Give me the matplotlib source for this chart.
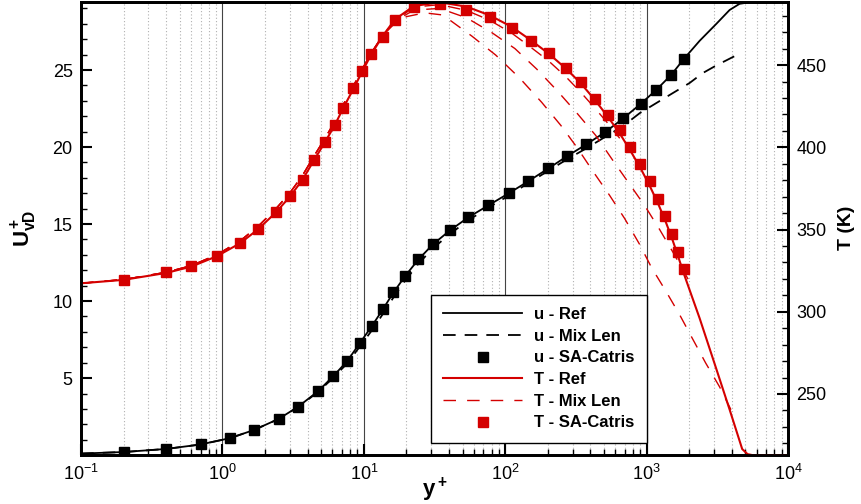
import matplotlib
matplotlib.use("Agg")
import matplotlib.pyplot as plt
from matplotlib.ticker import LogLocator, MultipleLocator, NullFormatter

plt.rcParams["font.family"] = ["Liberation Sans", "DejaVu Sans"]
plt.rcParams["mathtext.fontset"] = "custom"
plt.rcParams["mathtext.rm"] = "Liberation Sans"
plt.rcParams["mathtext.bf"] = "Liberation Sans:bold"
plt.rcParams["mathtext.it"] = "Liberation Sans:italic"
plt.rcParams["mathtext.default"] = "regular"

RED = "#d40000"

# ---- velocity (left axis) ----
u_ref_yp = [0.1, 0.2, 0.4, 0.7, 1.13, 1.67, 2.51, 3.44, 4.75, 6.07, 7.62, 9.37, 11.4, 13.6,
            16.1, 19.5, 24.2, 30.6, 40.5, 54.9, 75.5, 106, 145, 201, 273, 375, 511, 680, 907,
            1172, 1496, 1825, 2371, 3111, 3862, 4540, 5350, 6500, 10000]
u_ref = [0.1, 0.2, 0.4, 0.69, 1.1, 1.63, 2.36, 3.15, 4.15, 5.12, 6.1, 7.27, 8.38, 9.45,
         10.52, 11.6, 12.68, 13.66, 14.58, 15.44, 16.2, 17.0, 17.77, 18.6, 19.4, 20.18, 20.98,
         21.85, 22.8, 23.72, 24.7, 25.7, 26.9, 28.0, 28.9, 29.3, 29.4, 29.42, 29.42]

u_mix_yp = [0.1, 0.2, 0.4, 0.7, 1.13, 1.67, 2.51, 3.44, 4.75, 6.07, 7.62, 9.37, 11.4, 13.6,
            16.1, 19.5, 24.2, 30.6, 40.5, 54.9, 75.5, 106, 145, 201, 273, 375, 409, 511, 680,
            893, 1172, 1528, 2013, 2489, 3111, 4395]
u_mix = [0.1, 0.2, 0.4, 0.69, 1.1, 1.63, 2.35, 3.13, 4.1, 5.02, 5.95, 7.05, 8.1, 9.15,
         10.2, 11.3, 12.4, 13.4, 14.35, 15.25, 16.05, 16.85, 17.65, 18.45, 19.2, 19.92, 20.13,
         20.67, 21.36, 22.2, 22.86, 23.5, 24.16, 24.8, 25.3, 26.0]

u_sa_yp = [0.2, 0.4, 0.7, 1.13, 1.67, 2.51, 3.44, 4.75, 6.07, 7.62, 9.37, 11.4, 13.6, 16.1,
           19.5, 24.2, 30.6, 40.5, 54.9, 75.5, 106, 145, 201, 273, 375, 511, 680, 907, 1172,
           1496, 1825]
u_sa = [0.22, 0.42, 0.69, 1.08, 1.62, 2.34, 3.14, 4.16, 5.13, 6.10, 7.29, 8.40, 9.48, 10.56,
        11.64, 12.73, 13.70, 14.61, 15.47, 16.23, 17.03, 17.79, 18.62, 19.42, 20.19, 20.99,
        21.86, 22.79, 23.70, 24.68, 25.71]

# ---- temperature (right axis) ----
t_ref_yp = [0.1, 0.2, 0.4, 0.6, 0.91, 1.33, 1.79, 2.38, 3.0, 3.69, 4.43, 5.3, 6.24, 7.14, 8.4,
            9.73, 11.3, 13.6, 16.6, 22.6, 34.4, 53.2, 77.7, 111, 151, 203, 268, 342, 429, 533,
            645, 767, 903, 1050, 1202, 1356, 1510, 1665, 1825, 2371, 3027, 3862, 4740, 5170,
            5600, 10000]
t_ref = [317.3, 319.4, 323.6, 327.4, 333.7, 341.6, 350.2, 360.3, 370.0, 380.4, 392.0, 403.0,
         413.6, 423.8, 435.2, 446.0, 456.6, 467.8, 477.8, 486.0, 488.2, 485.6, 480.3, 473.3,
         465.3, 457.0, 448.0, 439.0, 429.0, 418.5, 408.5, 398.0, 387.5, 376.7, 366.0, 355.3,
         344.7, 334.0, 323.6, 296.0, 268.3, 240.5, 216.5, 213.4, 212.8, 212.8]

# mixing-length runs share the near-wall rise
t_mix_rise_yp = [0.1, 0.2, 0.4, 0.6, 0.91, 1.33, 1.79, 2.38, 3.0, 3.69, 4.43, 5.3, 6.24, 7.14,
                 8.4, 9.73, 11.3, 13.6]
t_mix_rise = [317.3, 319.6, 324.0, 328.0, 334.6, 343.0, 352.0, 362.5, 372.3, 383.0, 394.5,
              405.3, 415.8, 425.8, 437.0, 447.5, 457.5, 468.0]

t_mix_a_yp = [16.6, 22.6, 34.4, 53.2, 77.7, 111, 151, 203, 268, 342, 429, 533, 645]
t_mix_a = [477.0, 485.3, 486.8, 483.3, 477.3, 469.5, 461.0, 452.5, 443.0, 433.5, 424.0, 414.5,
           405.5]

t_mix_b_yp = [16.6, 22.6, 34.4, 53.2, 80.3, 117, 167, 231, 318, 436, 570, 746, 968, 1236,
              1540, 1965]
t_mix_b = [476.8, 483.5, 484.5, 478.8, 469.8, 460.1, 447.6, 434.8, 421.3, 407.3, 392.7, 378.4,
           364.6, 350.0, 336.0, 319.8]

t_mix_c_yp = [16.6, 20.0, 27.0, 36.2, 58.0, 85.7, 126.6, 181, 247, 325, 422, 548, 699, 893,
              1084, 1362, 1711, 2114, 2612, 3281, 4055]
t_mix_c = [475.5, 479.5, 481.8, 480.5, 467.7, 456.1, 442.1, 427.4, 413.4, 399.4, 384.8, 370.7,
           356.7, 340.9, 326.8, 312.8, 298.2, 283.5, 268.9, 254.3, 238.4]

t_sa_yp = [0.2, 0.4, 0.6, 0.91, 1.33, 1.79, 2.38, 3.0, 3.69, 4.43, 5.3, 6.24, 7.14, 8.4, 9.73,
           11.3, 13.6, 16.6, 22.6, 34.4, 53.2, 77.7, 111, 151, 203, 268, 342, 429, 533, 645,
           767, 903, 1050, 1202, 1356, 1510, 1665, 1825]
t_sa = [319.5, 324.0, 327.6, 334.1, 341.9, 350.4, 360.5, 370.1, 380.3, 392.1, 403.2, 413.8,
        424.2, 435.8, 446.3, 456.5, 467.3, 477.4, 485.5, 487.2, 483.5, 479.1, 472.4, 464.8,
        457.1, 448.0, 439.5, 429.7, 419.5, 410.4, 400.2, 390.1, 379.3, 368.7, 358.1, 347.4,
        336.6, 325.8]


fig = plt.figure(figsize=(8.62, 5.04), dpi=100)
ax = fig.add_axes([0.094, 0.097, 0.8202, 0.9])
ax2 = ax.twinx()

ax.set_xscale("log")
ax.set_xlim(0.1, 1e4)
ax.set_ylim(0, 29.45)
ax2.set_ylim(212.8, 488.7)

# vertical grid
ax.grid(True, which="major", axis="x", color="#444444", lw=0.8, ls="-")
ax.grid(True, which="minor", axis="x", color="#b0b0b0", lw=0.8, ls=(0, (1, 2)))
ax.set_axisbelow(True)

ax.plot(u_ref_yp, u_ref, color="black", lw=1.3, label="u - Ref")
ax.plot(u_mix_yp, u_mix, color="black", lw=1.3, ls=(0, (7, 5)), label="u - Mix Len")
ax.plot(u_sa_yp, u_sa, ls="none", marker="s", ms=6.5, color="black", label="u - SA-Catris")

mix_style = dict(color=RED, lw=1.0, ls=(0, (9, 8)))
ax2.plot(t_ref_yp, t_ref, color=RED, lw=1.5, label="T - Ref")
ax2.plot(t_mix_rise_yp + t_mix_a_yp, t_mix_rise + t_mix_a, label="T - Mix Len", **mix_style)
ax2.plot(t_mix_rise_yp + t_mix_b_yp, t_mix_rise + t_mix_b, **mix_style)
ax2.plot(t_mix_rise_yp + t_mix_c_yp, t_mix_rise + t_mix_c, **mix_style)
ax2.plot(t_sa_yp, t_sa, ls="none", marker="s", ms=6.5, color=RED, label="T - SA-Catris")

# ticks
ax.xaxis.set_major_locator(LogLocator(base=10, numticks=10))
ax.xaxis.set_minor_locator(LogLocator(base=10, subs=range(2, 10), numticks=20))
ax.xaxis.set_minor_formatter(NullFormatter())
ax.yaxis.set_minor_locator(MultipleLocator(1))
ax.set_yticks([5, 10, 15, 20, 25])
ax2.yaxis.set_minor_locator(MultipleLocator(10))
ax2.set_yticks([250, 300, 350, 400, 450])

ax.tick_params(which="major", direction="in", length=8, width=1.5, labelsize=13, pad=6,
               right=False, top=False)
ax.tick_params(which="minor", direction="in", length=4.5, width=1, right=False, top=False)
ax2.tick_params(which="major", direction="in", length=8, width=1.5, labelsize=13, pad=6)
ax2.tick_params(which="minor", direction="in", length=4.5, width=1)

for a in (ax, ax2):
    for sp in a.spines.values():
        sp.set_linewidth(2)

ax.set_xlabel(r"$\mathbf{y^+}$", fontsize=16)
ax.xaxis.set_label_coords(0.5, -0.045)
ax.set_ylabel(r"$\mathbf{U^+_{vD}}$", fontsize=16)
ax.yaxis.set_label_coords(-0.06, 0.5)
ax2.set_ylabel("T (K)", fontsize=14, fontweight="bold")
ax2.yaxis.set_label_coords(1.07, 0.5)

handles1, labels1 = ax.get_legend_handles_labels()
handles2, labels2 = ax2.get_legend_handles_labels()
leg = ax2.legend(handles1 + handles2, labels1 + labels2, loc="lower left",
                 bbox_to_anchor=(0.495, 0.027), borderaxespad=0, fancybox=False,
                 edgecolor="black", framealpha=1, numpoints=1, handlelength=4.7,
                 handletextpad=0.75, labelspacing=0.4, borderpad=0.75,
                 prop={"size": 12, "weight": "bold"})
leg.get_frame().set_linewidth(1.0)

fig.savefig("out.png", dpi=100)
